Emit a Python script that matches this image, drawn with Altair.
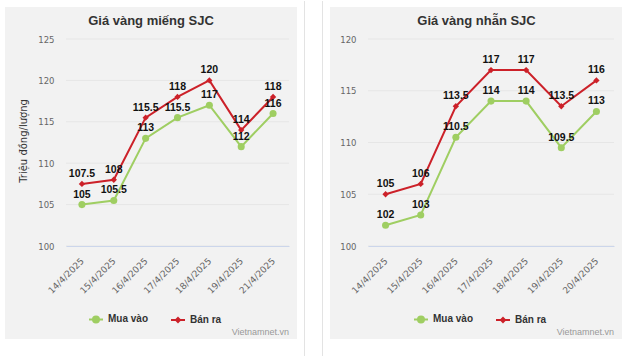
import altair as alt
import pandas as pd

# ---------------- data ----------------
series = ["Mua vào", "Bán ra"]
colors = ["#9fce62", "#cc2129"]

dates_left = ["14/4/2025", "15/4/2025", "16/4/2025", "17/4/2025",
              "18/4/2025", "19/4/2025", "21/4/2025"]
buy_left = [105, 105.5, 113, 115.5, 117, 112, 116]
sell_left = [107.5, 108, 115.5, 118, 120, 114, 118]
ticks_left = [100, 105, 110, 115, 120, 125]

dates_right = ["14/4/2025", "15/4/2025", "16/4/2025", "17/4/2025",
               "18/4/2025", "19/4/2025", "20/4/2025"]
buy_right = [102, 103, 110.5, 114, 114, 109.5, 113]
sell_right = [105, 106, 113.5, 117, 117, 113.5, 116]
ticks_right = [100, 105, 110, 115, 120]

title_left = "Giá vàng miếng SJC"
title_right = "Giá vàng nhẫn SJC"
y_title = "Triệu đồng/lượng"
watermark = "Vietnamnet.vn"

FONT = "Liberation Sans"
FONT2 = "DejaVu Sans"
H = 207

# legend symbols: line + filled marker, drawn with strokes
sym_circle = ("M-1,0L1,0M-0.43,0A0.43,0.43,0,1,0,0.43,0A0.43,0.43,0,1,0,-0.43,0"
              "M-0.14,0A0.14,0.14,0,1,0,0.14,0A0.14,0.14,0,1,0,-0.14,0")
sym_diamond = "M-1,0L1,0M0,-0.29L0.29,0L0,0.29L-0.29,0ZM0,-0.1L0,0.1"


def panel(dates, buy, sell, ticks, title, W, rect, title_x, legend_x,
          show_ytitle, separators):
    n = len(dates)
    df = pd.DataFrame({
        "date": dates * 2,
        "value": buy + sell,
        "series": [series[0]] * n + [series[1]] * n,
    })
    df["label"] = df["value"].map(lambda v: f"{v:g}")
    one = pd.DataFrame({"k": [1]})

    yscale = alt.Scale(domain=[ticks[0], ticks[-1]], nice=False, zero=False)
    x = alt.X("date:N", sort=dates, scale=alt.Scale(type="point", padding=0.5),
              axis=alt.Axis(labelAngle=-45, labelAlign="right",
                            labelBaseline="middle", title=None, ticks=False,
                            domainColor="#ccd6eb", domainWidth=1,
                            labelColor="#666666", labelFontSize=9,
                            labelFont=FONT2, labelPadding=13, zindex=1))
    y = alt.Y("value:Q", scale=yscale,
              axis=alt.Axis(values=ticks, title=None, grid=False, domain=False,
                            ticks=False, labelColor="#666666", labelFontSize=8.5,
                            labelFont=FONT2, labelPadding=12, zindex=1))

    layers = []
    layers.append(alt.Chart(one).mark_rect(color="#f2f2f2").encode(
        x=alt.value(rect[0]), x2=alt.value(rect[1]),
        y=alt.value(rect[2]), y2=alt.value(rect[3])))
    for sx in separators:
        layers.append(alt.Chart(one).mark_rule(color="#e3e3e3", strokeWidth=1).encode(
            x=alt.value(sx), y=alt.value(-38), y2=alt.value(318)))
    layers.append(alt.Chart(pd.DataFrame({"value": ticks})).mark_rule(
        color="#e6e6e6", strokeWidth=1).encode(
        y=y, x=alt.value(0), x2=alt.value(W)))

    shapes = ["circle", "diamond"]
    sizes = [50, 40]
    for s, c, shp, sz in zip(series, colors, shapes, sizes):
        d = df[df["series"] == s]
        base = alt.Chart(d).encode(x=x, y=y)
        layers.append(base.mark_line(color=c, strokeWidth=2))
        layers.append(base.mark_point(filled=True, color=c, shape=shp,
                                      size=sz, opacity=1))
    for s in series:
        d = df[df["series"] == s]
        layers.append(alt.Chart(d).mark_text(
            font=FONT, fontSize=10.5, fontWeight="bold", color="#111111",
            dy=-7, baseline="alphabetic").encode(x=x, y=y, text="label:N"))

    leg_props = dict(orient="none", legendX=legend_x, legendY=272,
                     direction="horizontal", title=None, symbolSize=196,
                     symbolStrokeWidth=2, symbolOpacity=1, labelFont=FONT,
                     labelFontSize=10, labelFontWeight="bold",
                     labelColor="#333333", labelOffset=4, columnPadding=18,
                     padding=0)
    layers.append(alt.Chart(df).mark_point(filled=False, opacity=0,
                                           strokeWidth=2).encode(
        x=x, y=y,
        color=alt.Color("series:N", scale=alt.Scale(domain=series, range=colors),
                        legend=alt.Legend(**leg_props)),
        shape=alt.Shape("series:N",
                        scale=alt.Scale(domain=series, range=[sym_circle, sym_diamond]),
                        legend=alt.Legend(**leg_props))))

    layers.append(alt.Chart(one).mark_text(
        font=FONT, fontSize=13, fontWeight="bold", color="#333333",
        align="center", baseline="alphabetic").encode(
        x=alt.value(title_x), y=alt.value(-14), text=alt.value(title)))
    layers.append(alt.Chart(one).mark_text(
        font=FONT, fontSize=9, color="#999999", align="right",
        baseline="alphabetic").encode(
        x=alt.value(W), y=alt.value(296), text=alt.value(watermark)))
    if show_ytitle:
        layers.append(alt.Chart(one).mark_text(
            font=FONT2, fontSize=10, color="#333333", angle=270,
            align="center", baseline="middle").encode(
            x=alt.value(-42), y=alt.value(102), text=alt.value(y_title)))

    return alt.layer(*layers).properties(width=W, height=H)


left = panel(dates_left, buy_left, sell_left, ticks_left, title_left, 223,
             (-61, 231, -32, 300), 85, 22, True, [238.5, 256.5])
right = panel(dates_right, buy_right, sell_right, ticks_right, title_right, 246,
              (-38, 254, -32, 300), 108.5, 45, False, [])

chart = alt.hconcat(left, right, spacing=79, bounds="flush").resolve_scale(
    x="independent", y="independent", color="independent", shape="independent"
).resolve_legend(color="independent", shape="independent").properties(
    padding={"left": 5, "top": 0, "right": 7, "bottom": 0},
    background="white",
).configure_view(stroke=None)

chart.save("out.html", embed_options={"renderer": "svg", "actions": False})
